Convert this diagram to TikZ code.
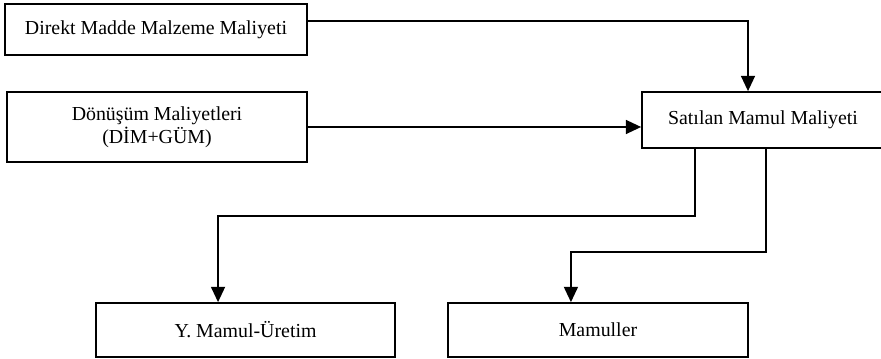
\documentclass[tikz,border=0pt]{standalone}
\usepackage{fontspec}
\setmainfont{Liberation Serif}
\usetikzlibrary{arrows.meta}
\begin{document}
\begin{tikzpicture}[x=0.75pt,y=0.75pt,yscale=-1,xscale=1,
  kutu/.style={draw,line width=1.3pt,inner sep=0pt,align=center,font=\fontsize{14.9}{17.5}\selectfont},
  ok/.style={line width=1.3pt,-{Triangle[length=11.5pt,width=10.5pt]}}]
%set diagram area: 881 x 359
\useasboundingbox (0,0) rectangle (881,359);

%Boxes
\node [kutu,minimum width=226.5pt,minimum height=38.5pt] (dmm) at (156,29.5) {Direkt Madde Malzeme Maliyeti};
\node [kutu,minimum width=225pt,minimum height=52.5pt] (dm) at (157,127) {Dönüşüm Maliyetleri\\(DİM+GÜM)};
\node [kutu,minimum width=181.5pt,minimum height=42pt] (smm) at (763,120) {Satılan Mamul Maliyeti};
\node [kutu,minimum width=224.25pt,minimum height=40.5pt] (ymm) at (245.5,330) {Y. Mamul-Üretim};
\node [kutu,minimum width=225pt,minimum height=40.5pt] (mam) at (598,330) {Mamuller};

%Connectors
\draw [ok] ([yshift=-6.4pt]dmm.east) -| ([xshift=-11.25pt]smm.north);
\draw [ok] (dm.east) -- (dm.east -| smm.west);
\draw [ok] ([xshift=-51pt]smm.south) -- ++(0,67) -| ([xshift=-20.6pt]ymm.north);
\draw [ok] ([xshift=2.25pt]smm.south) -- ++(0,103) -| ([xshift=-20.3pt]mam.north);

\end{tikzpicture}
\end{document}
